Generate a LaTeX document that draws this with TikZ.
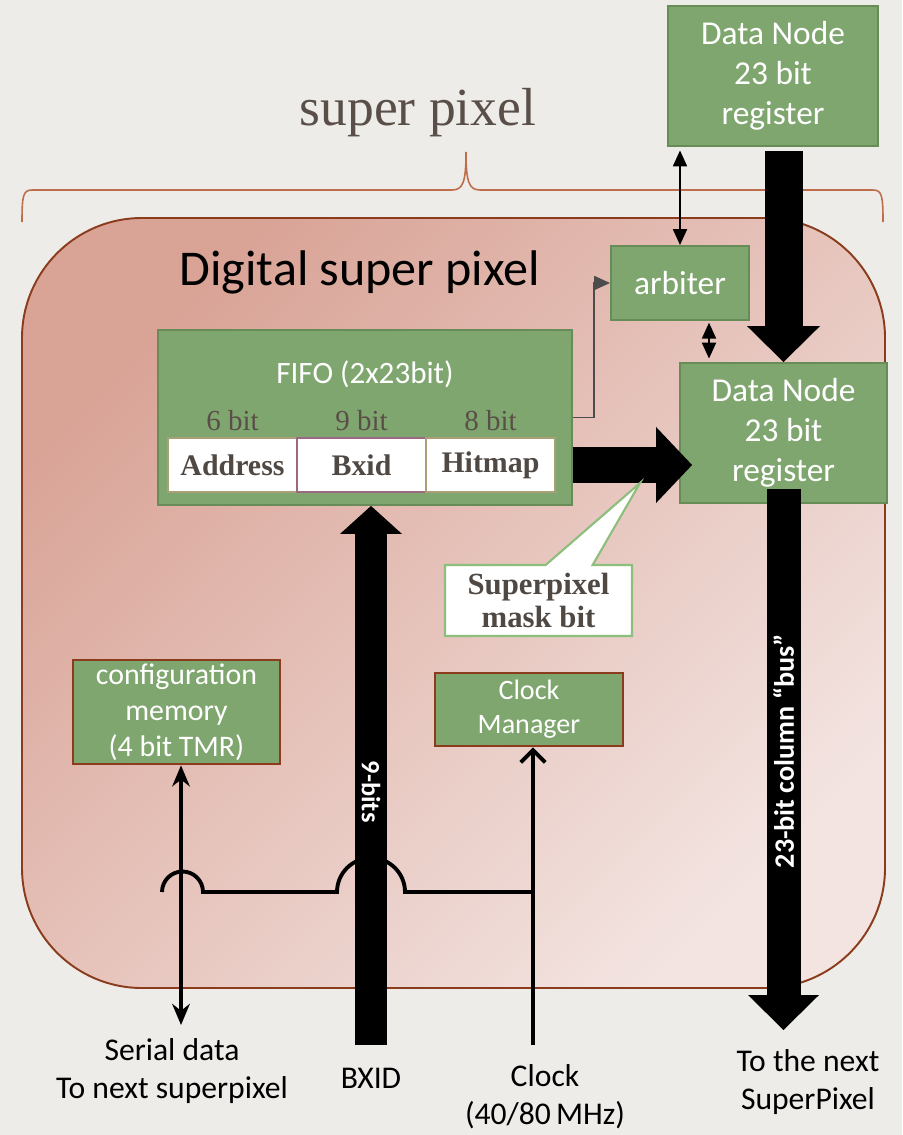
\documentclass[tikz,border=0pt]{standalone}
\usepackage{fontspec}
\setmainfont{Liberation Serif}
\setsansfont{Carlito}
\usetikzlibrary{arrows.meta,positioning,shapes.callouts}

\definecolor{paper}{RGB}{238,236,232}
\definecolor{boxgreen}{RGB}{128,166,111}
\definecolor{boxedge}{RGB}{104,140,88}
\definecolor{rust}{RGB}{139,60,28}
\definecolor{pinkdark}{RGB}{217,163,150}
\definecolor{pinklight}{RGB}{243,228,225}
\definecolor{inkgray}{RGB}{89,79,72}
\definecolor{cellgray}{RGB}{79,72,67}
\definecolor{bracecol}{RGB}{190,110,75}
\definecolor{calloutgreen}{RGB}{140,190,124}
\definecolor{cellmauve}{RGB}{156,106,128}
\definecolor{celltan}{RGB}{170,160,120}

\tikzset{
  greenbox/.style={draw=boxedge, line width=1.1pt, fill=boxgreen, text=white, align=center, inner sep=0pt},
  rustbox/.style={greenbox, draw=rust, line width=1.5pt},
  cell/.style={draw=celltan, line width=1pt, fill=white, text=cellgray, font=\bfseries\fontsize{17}{20}\selectfont, minimum width=2.58cm, minimum height=1.08cm, inner sep=0pt, outer sep=0pt},
  bitlbl/.style={text=inkgray, font=\fontsize{16.5}{20}\selectfont, inner sep=0pt},
  caption/.style={font=\sffamily\fontsize{18}{21.6}\selectfont, align=center, inner sep=0pt},
  blockarrow/.style={line width=0.74cm, -{Triangle[width=1.46cm,length=0.72cm,line width=0pt]}},
  thinlink/.style={line width=0.85pt, {Triangle[width=8pt,length=9pt]}-{Triangle[width=8pt,length=9pt]}},
  wire/.style={line width=2.2pt},
  bartext/.style={text=white, inner sep=0pt}
}

\begin{document}
\begin{tikzpicture}[x=0.02cm,y=0.02cm]
	% paper
	\fill[paper] (0,0) rectangle (902,-1135);
	\useasboundingbox (0,0) rectangle (902,-1135);

	% brace and title
	\draw[bracecol, line width=0.9pt] (22,-222) .. controls (22,-196) and (23,-190) .. (32,-190) -- (452,-190) .. controls (463,-190) and (466,-182) .. (466,-152) .. controls (466,-182) and (469,-190) .. (480,-190) -- (873,-190) .. controls (882,-190) and (883,-196) .. (883,-222);
	\node[text=inkgray, font=\fontsize{30.5}{36}\selectfont, inner sep=0pt] (sptitle) at (418,-113) {super pixel};

	% digital super pixel
	\shadedraw[top color=pinkdark, bottom color=pinklight, shading angle=45, draw=rust, line width=1.1pt, rounded corners=2.4cm] (22,-218) rectangle (885,-988);
	\node[font=\sffamily\fontsize{28.5}{34}\selectfont, inner sep=0pt] (dsptitle) at (360,-272) {Digital super pixel};

	% blocks
	\node[greenbox, minimum width=4.2cm, minimum height=2.8cm, font=\sffamily\fontsize{19}{22.8}\selectfont] (dntop) at (773,-76) {Data Node\\23 bit\\register};
	\node[greenbox, minimum width=2.76cm, minimum height=1.48cm, font=\sffamily\fontsize{19}{22.8}\selectfont] (arbiter) at (680,-283) {arbiter};
	\node[greenbox, minimum width=4.14cm, minimum height=2.8cm, font=\sffamily\fontsize{19}{22.8}\selectfont] (dnmid) at (783.5,-433) {Data Node\\23 bit\\register};
	\node[greenbox, minimum width=8.28cm, minimum height=3.5cm] (fifo) at (365,-417.5) {};
	\node[text=white, font=\sffamily\fontsize{17.7}{21}\selectfont, inner sep=0pt] (fifotitle) at (365,-374) {FIFO (2x23bit)};
	\node[cell] (addr) at (232.5,-465) {Address};
	\node[cell, draw=cellmauve, right=0pt of addr] (bxid) {Bxid};
	\node[cell, right=0pt of bxid] (hitmap) {Hitmap};
	\node[bitlbl, above=0.14cm of addr] (addrbits) {6 bit};
	\node[bitlbl, above=0.14cm of bxid] (bxidbits) {9 bit};
	\node[bitlbl, above=0.14cm of hitmap] (hitmapbits) {8 bit};
	\node[rustbox, minimum width=4.14cm, minimum height=2.08cm, font=\sffamily\fontsize{17}{20.5}\selectfont] (config) at (176.5,-712) {configuration\\memory\\(4 bit TMR)};
	\node[rustbox, minimum width=3.76cm, minimum height=1.46cm, font=\sffamily\fontsize{16}{19.4}\selectfont] (clockmgr) at (529,-709.5) {Clock\\Manager};

	% outside labels
	\node[caption] (serialtxt) at (172,-1071) {Serial data\\To next superpixel};
	\node[caption] (bxidtxt) at (371,-1078) {BXID};
	\node[caption] (clocktxt) at (545,-1097) {Clock\\(40/80\,MHz)};
	\node[caption] (nexttxt) at (808,-1082) {To the next\\SuperPixel};

	\coordinate (serialout) at (181,-1025);
	\coordinate (bxidin) at (371,-1045);
	\coordinate (clkin) at (533,-1045);
	\coordinate (busout) at (783.5,-1030);
	\coordinate (hop) at (533,-892);
	\coordinate (arbout) at ([xshift=0.58cm]arbiter.south);

	% buses
	\draw[blockarrow, line width=0.76cm, shorten <=0.08cm] (dntop.south -| dnmid.north) -- (dnmid.north);
	\draw[blockarrow, line width=0.72cm, -{Triangle[width=1.52cm,length=0.72cm,line width=0pt]}, shorten >=-0.26cm] (fifo.east |- hitmap) -- (dnmid.west |- hitmap);
	\draw[blockarrow, line width=0.64cm, -{Triangle[width=1.24cm,length=0.56cm,line width=0pt]}] (bxidin) -- node[pos=0.47, rotate=-90, bartext, font=\sffamily\bfseries\fontsize{15}{18}\selectfont] (ninebits) {9-bits} (bxidin |- fifo.south);
	\draw[blockarrow, line width=0.68cm, -{Triangle[width=1.42cm,length=0.7cm,line width=0pt]}, shorten <=-0.3cm] (dnmid.south) -- node[pos=0.47, rotate=90, bartext, font=\sffamily\bfseries\fontsize{16}{19}\selectfont] (bustxt) {23-bit column “bus”} (busout);

	% handshakes
	\draw[thinlink, shorten <=2pt] (arbiter.north |- dntop.south) -- (arbiter.north);
	\draw[thinlink, shorten <=1pt, shorten >=2pt] (arbout) -- (arbout |- dnmid.north);
	\draw[line width=0.7pt, draw=black!70, -{Triangle[width=8pt,length=9pt]}] (fifo.east) -- ++(21,0) |- (arbiter.west);

	% mask bit
	\node[rectangle callout, callout absolute pointer={(640,-483)}, callout pointer width=0.94cm, draw=calloutgreen, line width=1.2pt, fill=white, text=cellgray, font=\bfseries\fontsize{17.5}{19}\selectfont, align=center, minimum width=3.74cm, minimum height=1.42cm, inner sep=0pt] (maskbit) at (538.5,-600.5) {Superpixel\\mask bit};

	% serial data and clock
	\draw[wire, {Stealth[length=12pt,width=10pt]}-{Stealth[length=12pt,width=10pt]}] (serialout |- config.south) -- (serialout);
	\draw[wire, -{Straight Barb[length=7pt,width=14pt]}] (clkin) -- (clkin |- clockmgr.south);
	\draw[wire] (hop) -- (405,-892) arc[start angle=0, end angle=180, radius=0.68cm] -- (203,-892) arc[start angle=0, end angle=180, radius=0.41cm];
\end{tikzpicture}
\end{document}
